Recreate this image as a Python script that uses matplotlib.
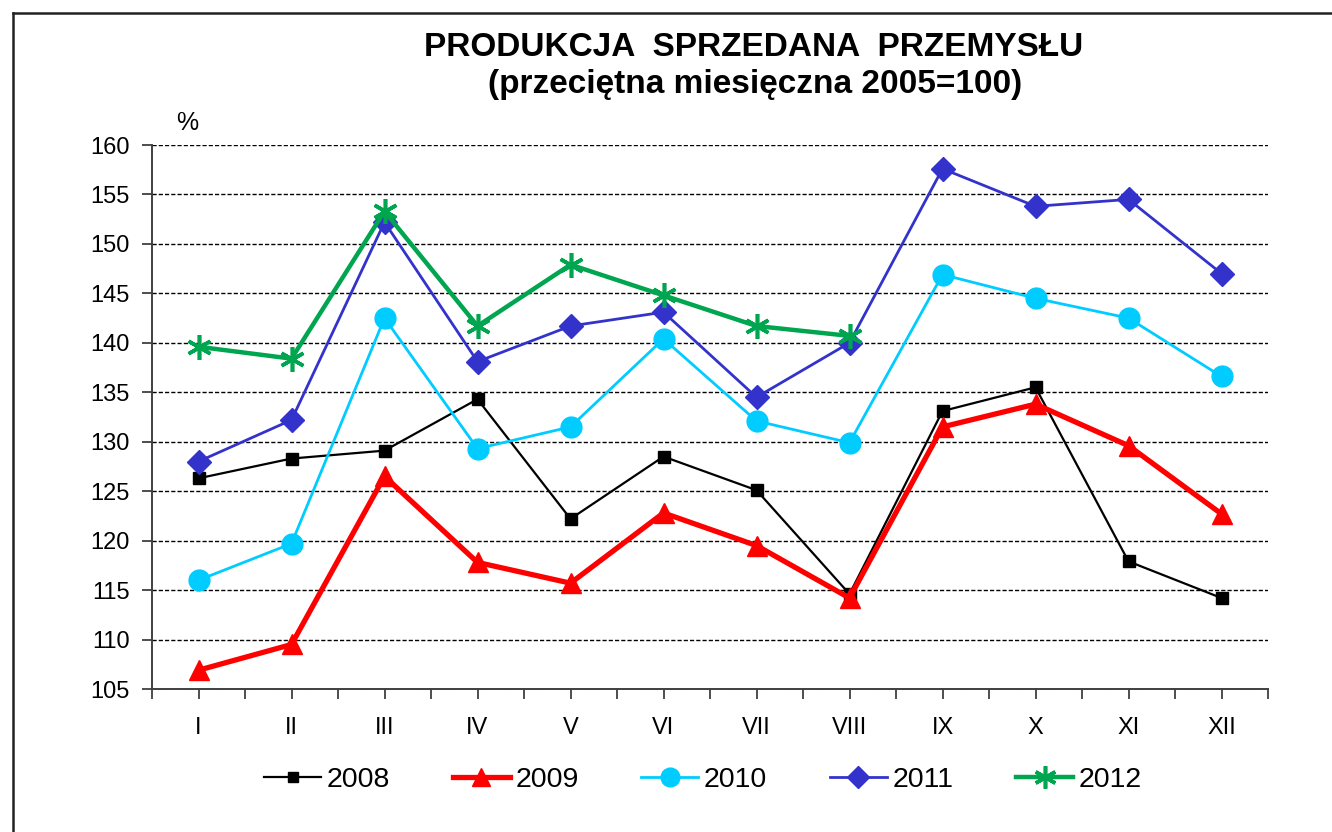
import numpy as np
import matplotlib.pyplot as plt
from matplotlib.lines import Line2D

plt.rcParams['font.family'] = ['Liberation Sans', 'DejaVu Sans']

# Data
months = ['I', 'II', 'III', 'IV', 'V', 'VI', 'VII', 'VIII', 'IX', 'X', 'XI', 'XII']
y2008 = [126.3, 128.3, 129.1, 134.3, 122.2, 128.5, 125.1, 114.6, 133.1, 135.5, 117.9, 114.2]
y2009 = [106.9, 109.5, 126.5, 117.8, 115.7, 122.8, 119.5, 114.2, 131.5, 133.8, 129.6, 122.7]
y2010 = [116.0, 119.7, 142.5, 129.3, 131.5, 140.4, 132.1, 129.9, 146.9, 144.5, 142.5, 136.6]
y2011 = [128.0, 132.2, 152.2, 138.1, 141.7, 143.1, 134.5, 140.0, 157.6, 153.8, 154.5, 147.0]
y2012 = [139.6, 138.4, 153.3, 141.7, 147.9, 144.8, 141.7, 140.7]

W, H = 1332, 832
fig = plt.figure(figsize=(W / 100, H / 100), dpi=100)
ax = fig.add_axes([152 / W, 1 - 689 / H, (1268 - 152) / W, (689 - 145) / H])

x = np.arange(len(months))

ax.plot(x, y2008, color='black', lw=1.6, marker='s', ms=8, label='2008', zorder=3)
ax.plot(x, y2009, color='#ff0000', lw=3.8, marker='^', ms=14, label='2009', zorder=3)
ax.plot(x, y2010, color='#00ccff', lw=2.0, marker='o', ms=15, label='2010', zorder=3)
ax.plot(x, y2011, color='#3333cc', lw=2.0, marker='D', ms=12, label='2011', zorder=4)
ax.plot(x[:len(y2012)], y2012, color='#00a550', lw=3.2, marker=(6, 2, 0), ms=18,
        mew=2.6, label='2012', zorder=5)

# Axes
ax.set_xlim(-0.5, 11.5)
ax.set_ylim(105, 160)
ax.set_yticks(np.arange(105, 161, 5))
ax.set_xticks(x)
ax.set_xticklabels(months)
ax.set_xticks(np.arange(-0.5, 12, 1), minor=True)
ax.tick_params(axis='both', which='both', length=7, width=1.3, color='#404040',
               labelsize=17, direction='out')
ax.tick_params(axis='x', which='major', pad=13)
ax.tick_params(axis='y', pad=9)

for s in ['top', 'right']:
    ax.spines[s].set_visible(False)
for s in ['left', 'bottom']:
    ax.spines[s].set_color('#404040')
    ax.spines[s].set_linewidth(1.4)

ax.yaxis.grid(True, color='black', linestyle=(0, (3, 1.5)), linewidth=1.0)
ax.set_axisbelow(True)

# Titles
fig.text(754 / W, 1 - 47 / H, 'PRODUKCJA  SPRZEDANA  PRZEMYSŁU',
         ha='center', va='center', fontsize=24, fontweight='bold')
fig.text(755 / W, 1 - 84 / H, '(przeciętna miesięczna 2005=100)',
         ha='center', va='center', fontsize=24, fontweight='bold')
fig.text(187 / W, 1 - 123 / H, '%', ha='center', va='center', fontsize=18)

# Legend
fig.legend(loc='center', bbox_to_anchor=(703 / W, 1 - 780 / H), ncol=5,
           frameon=False, fontsize=20.5, handlelength=2.0, handletextpad=0.2,
           columnspacing=2.2, markerscale=0.9)

# Outer frame (open to the right and bottom)
fig.add_artist(Line2D([13 / W, 13 / W], [0, 1 - 13 / H], color='#222222', lw=1.8))
fig.add_artist(Line2D([13 / W, 1], [1 - 13 / H, 1 - 13 / H], color='#222222', lw=1.8))

fig.savefig('out.png', dpi=100)
